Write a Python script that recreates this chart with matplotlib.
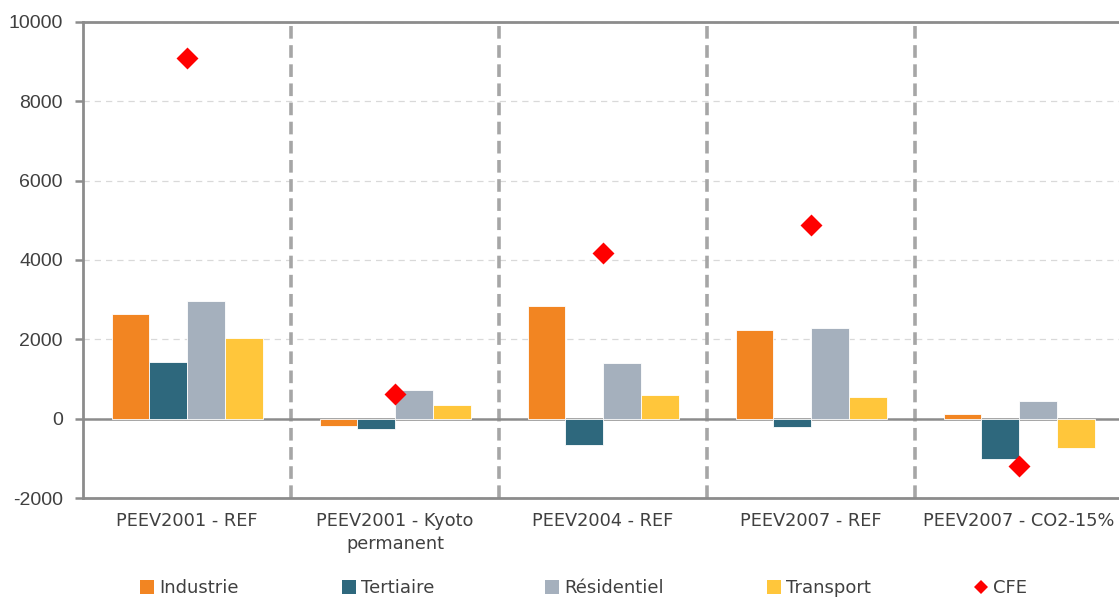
import numpy as np
import matplotlib.pyplot as plt
from matplotlib.lines import Line2D
from matplotlib.patches import Patch

plt.rcParams['font.family'] = ['DejaVu Sans']
plt.rcParams['axes.unicode_minus'] = False

# scénarios et séries
scenarios = ["PEEV2001 - REF", "PEEV2001 - Kyoto\npermanent", "PEEV2004 - REF",
             "PEEV2007 - REF", "PEEV2007 - CO2-15%"]
industrie = [2650, -180, 2840, 2240, 120]
tertiaire = [1430, -260, -670, -220, -1020]
residentiel = [2970, 720, 1400, 2280, 450]
transport = [2030, 345, 590, 555, -750]
cfe = [9100, 620, 4180, 4880, -1200]

series = [("Industrie", industrie, "#F28522"),
          ("Tertiaire", tertiaire, "#2E687D"),
          ("Résidentiel", residentiel, "#A5B0BD"),
          ("Transport", transport, "#FFC63B")]

fig = plt.figure(figsize=(11.19, 5.99), dpi=100)
ax = fig.add_axes([0.0742, 0.1686, 0.9295, 0.7947])

x = np.arange(len(scenarios))
w = 0.1815
for i, (nom, vals, col) in enumerate(series):
    ax.bar(x + (i - 1.5) * w, vals, w, color=col, edgecolor="white",
           linewidth=0.6, zorder=3, label=nom)

ax.scatter(x, cfe, marker="D", s=125, color="#FF0000", zorder=4, label="CFE",
           linewidths=0)

# séparateurs entre scénarios
for b in np.arange(0.5, len(scenarios) - 0.5, 1):
    ax.axvline(b, color="#A6A6A6", lw=2.6, ls=(0, (3.5, 1.8)), zorder=2)

ax.axhline(0, color="#8C8C8C", lw=1.8, zorder=2.5)

ax.set_xlim(-0.5, len(scenarios) - 0.5)
ax.set_ylim(-2000, 10000)
ax.set_yticks(np.arange(-2000, 10001, 2000))
ax.yaxis.grid(True, color="#D9D9D9", ls=(0, (5, 4)), lw=0.9)
ax.set_axisbelow(True)

ax.set_xticks(x)
ax.set_xticklabels(scenarios, fontsize=12.8, color="#404040", linespacing=1.4)
ax.tick_params(axis="x", length=0, pad=10)
ax.tick_params(axis="y", length=6, width=1.8, color="#8C8C8C",
               labelsize=14, labelcolor="#404040", pad=8.5)
for t in ax.get_yticklabels():
    t.set_fontfamily("Liberation Sans")

for s in ["left", "top", "bottom", "right"]:
    ax.spines[s].set_color("#8C8C8C")
    ax.spines[s].set_linewidth(2)

# légende : une entrée par position
handles = [Patch(facecolor=c, edgecolor="none") for _, _, c in series]
handles.append(Line2D([], [], marker="D", ls="none", color="#FF0000",
                      markersize=7.5, markeredgewidth=0))
labels = [n for n, _, _ in series] + ["CFE"]
xpos = [140, 342, 545, 767, 974]
for h, lab, px in zip(handles, labels, xpos):
    fig.legend([h], [lab], loc="center left", bbox_to_anchor=(px / 1119, 0.018),
               frameon=False, fontsize=13, handlelength=0.75, handleheight=0.75,
               handletextpad=0.3, borderpad=0, borderaxespad=0,
               labelcolor="#404040")

fig.savefig("out.png", dpi=100)
